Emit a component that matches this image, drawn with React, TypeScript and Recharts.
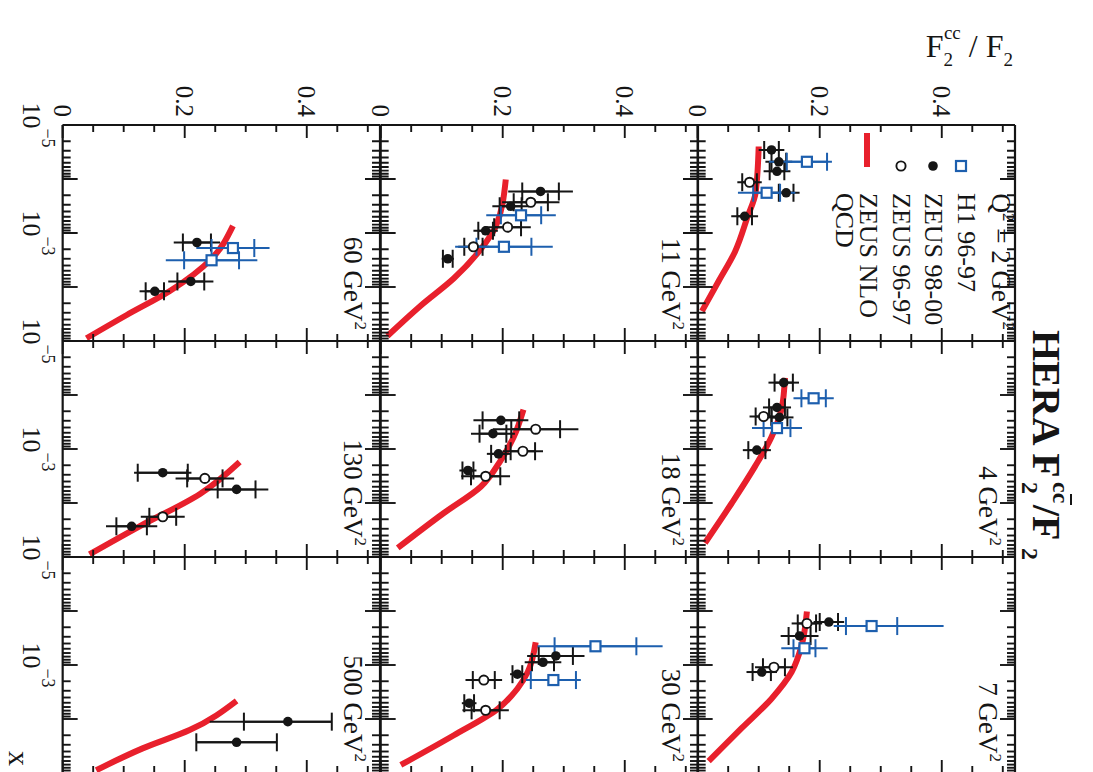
import React from 'react';
import { ComposedChart, Scatter, Line, XAxis, YAxis, ErrorBar } from 'recharts';

// ---- figure frame (drawn upright, then turned a quarter turn clockwise) ----
const FIG_W = 772;
const FIG_H = 1093;
const PLOT_LEFT = 125;
const PLOT_TOP = 78;
const PANEL_W = 216;
const PANEL_H = 317.33;

const INK = '#151515';
const BLUE = '#1d5fae';
const RED = '#e8202c';
const FONT = '"Liberation Serif", "Times New Roman", serif';

// ---- axes ----
const X_DOMAIN: [number, number] = [1e-5, 1e-1];
const R_DOMAIN: [number, number] = [0, 0.52];
const X_LABEL_EXPONENTS = [-5, -3];
const R_LABELS = [0, 0.2, 0.4];
const LOG_TICKS = [-5, -4, -3, -2].flatMap((d) => [1, 2, 3, 4, 5, 6, 7, 8, 9].map((m) => m * Math.pow(10, d))).concat([1e-1]);
const R_TICKS = [0, 0.05, 0.1, 0.15, 0.2, 0.25, 0.3, 0.35, 0.4, 0.45, 0.5];

// ---- panels: Q^2 in GeV^2 ----
const Q2_VALUES = [2, 4, 7, 11, 18, 30, 60, 130, 500];

// points: [x, F2cc/F2, stat. error, total error]; an error given as [down, up] is asymmetric
type Err = number | [number, number];
type Pt = [number, number, Err, Err];

const H1_Q2_2: Pt[] = [[4.8e-5, 0.179, 0.033, [0.062, 0.041]], [1.8e-4, 0.113, 0.022, 0.047]];
const ZEUS98_Q2_2: Pt[] = [[2.9e-5, 0.121, 0.012, 0.021], [4.8e-5, 0.133, 0.012, 0.022], [7.2e-5, 0.13, 0.012, 0.022], [1.8e-4, 0.145, 0.012, 0.022], [4.9e-4, 0.077, 0.012, 0.022]];
const ZEUS96_Q2_2: Pt[] = [[1.15e-4, 0.085, 0.012, 0.02]];
const NLO_Q2_2: [number, number][] = [[2.5e-5, 0.1], [1.78e-4, 0.095], [4.9e-4, 0.082], [2.24e-3, 0.061], [7.9e-3, 0.034], [2.8e-2, 0.007]];

const H1_Q2_4: Pt[] = [[1.15e-4, 0.19, 0.02, 0.033], [4.1e-4, 0.13, 0.022, 0.041]];
const ZEUS98_Q2_4: Pt[] = [[5.9e-5, 0.141, 0.015, 0.025], [1.7e-4, 0.13, 0.013, 0.023], [2.6e-4, 0.134, 0.013, 0.023], [1.05e-3, 0.097, 0.014, 0.023]];
const ZEUS96_Q2_4: Pt[] = [[2.5e-4, 0.108, 0.013, 0.023]];
const NLO_Q2_4: [number, number][] = [[4.8e-5, 0.143], [1.7e-4, 0.138], [6.0e-4, 0.121], [2.1e-3, 0.094], [1e-2, 0.056], [5.5e-2, 0.012]];

const H1_Q2_7: Pt[] = [[1.9e-4, 0.285, 0.042, [0.062, 0.118]], [4.9e-4, 0.175, 0.018, 0.038]];
const ZEUS98_Q2_7: Pt[] = [[1.6e-4, 0.215, 0.015, 0.025], [2.9e-4, 0.167, 0.018, 0.031], [1.35e-3, 0.105, 0.015, 0.025]];
const ZEUS96_Q2_7: Pt[] = [[1.7e-4, 0.179, 0.015, 0.025], [1.1e-3, 0.125, 0.018, 0.031]];
const NLO_Q2_7: [number, number][] = [[1.02e-4, 0.179], [4.5e-4, 0.17], [1.35e-3, 0.154], [4.2e-3, 0.121], [1.48e-2, 0.072], [6.0e-2, 0.018]];

const H1_Q2_11: Pt[] = [[4.7e-4, 0.23, 0.033, 0.057], [1.8e-3, 0.202, 0.045, 0.08]];
const ZEUS98_Q2_11: Pt[] = [[1.7e-4, 0.262, 0.03, 0.053], [3.2e-4, 0.213, 0.018, 0.03], [9.1e-4, 0.172, 0.012, 0.02], [3.0e-3, 0.11, 0.008, 0.01]];
const ZEUS96_Q2_11: Pt[] = [[2.7e-4, 0.246, 0.028, 0.047], [7.8e-4, 0.208, 0.022, 0.038], [1.8e-3, 0.152, 0.015, 0.025]];
const NLO_Q2_11: [number, number][] = [[1.02e-4, 0.205], [7.4e-4, 0.189], [2e-3, 0.164], [6.9e-3, 0.12], [2.2e-2, 0.066], [8.1e-2, 0.011]];

const H1_Q2_18: Pt[] = [];
const ZEUS98_Q2_18: Pt[] = [[2.95e-4, 0.197, 0.03, 0.045], [5.2e-4, 0.184, 0.022, 0.036], [1.23e-3, 0.193, 0.012, 0.019], [2.5e-3, 0.143, 0.009, 0.014]];
const ZEUS96_Q2_18: Pt[] = [[4.3e-4, 0.254, 0.04, 0.07], [1.1e-3, 0.233, 0.02, 0.033], [3.2e-3, 0.172, 0.024, 0.04]];
const NLO_Q2_18: [number, number][] = [[1.86e-4, 0.234], [6e-4, 0.218], [1.6e-3, 0.197], [5e-3, 0.164], [1.55e-2, 0.103], [6.8e-2, 0.028]];

const H1_Q2_30: Pt[] = [[4.5e-4, 0.352, 0.067, [0.095, 0.11]], [1.9e-3, 0.283, 0.037, 0.045]];
const ZEUS98_Q2_30: Pt[] = [[6.8e-4, 0.287, 0.028, 0.047], [8.9e-4, 0.266, 0.018, 0.03], [1.48e-3, 0.224, 0.008, 0.012], [5.1e-3, 0.145, 0.008, 0.012]];
const ZEUS96_Q2_30: Pt[] = [[1.9e-3, 0.169, 0.018, 0.03], [6.9e-3, 0.172, 0.023, 0.038]];
const NLO_Q2_30: [number, number][] = [[3.8e-4, 0.254], [1.35e-3, 0.241], [2.75e-3, 0.224], [6.5e-3, 0.192], [2e-2, 0.12], [7.1e-2, 0.033]];

const H1_Q2_60: Pt[] = [[1.9e-3, 0.279, 0.035, 0.06], [3.2e-3, 0.244, 0.045, 0.075]];
const ZEUS98_Q2_60: Pt[] = [[1.5e-3, 0.22, 0.023, 0.038], [7.9e-3, 0.21, 0.022, 0.037], [1.2e-2, 0.151, 0.015, 0.025]];
const ZEUS96_Q2_60: Pt[] = [];
const NLO_Q2_60: [number, number][] = [[7.4e-4, 0.279], [3e-3, 0.244], [1.2e-2, 0.175], [3.3e-2, 0.105], [8.9e-2, 0.039]];

const H1_Q2_130: Pt[] = [];
const ZEUS98_Q2_130: Pt[] = [[2.75e-3, 0.164, 0.041, 0.047], [5.6e-3, 0.285, 0.031, 0.052], [2.7e-2, 0.113, 0.025, 0.042]];
const ZEUS96_Q2_130: Pt[] = [[3.5e-3, 0.233, 0.029, 0.048], [1.8e-2, 0.164, 0.022, 0.036]];
const NLO_Q2_130: [number, number][] = [[1.74e-3, 0.29], [6.8e-3, 0.225], [2.7e-2, 0.126], [8.9e-2, 0.044]];

const H1_Q2_500: Pt[] = [];
const ZEUS98_Q2_500: Pt[] = [[1.12e-2, 0.369, 0.072, [0.128, 0.072]], [2.7e-2, 0.285, 0.066, 0.066]];
const ZEUS96_Q2_500: Pt[] = [];
const NLO_Q2_500: [number, number][] = [[4.6e-3, 0.285], [1.6e-2, 0.208], [3.5e-2, 0.131], [8.9e-2, 0.055]];

const H1_SETS = [H1_Q2_2, H1_Q2_4, H1_Q2_7, H1_Q2_11, H1_Q2_18, H1_Q2_30, H1_Q2_60, H1_Q2_130, H1_Q2_500];
const ZEUS98_SETS = [ZEUS98_Q2_2, ZEUS98_Q2_4, ZEUS98_Q2_7, ZEUS98_Q2_11, ZEUS98_Q2_18, ZEUS98_Q2_30, ZEUS98_Q2_60, ZEUS98_Q2_130, ZEUS98_Q2_500];
const ZEUS96_SETS = [ZEUS96_Q2_2, ZEUS96_Q2_4, ZEUS96_Q2_7, ZEUS96_Q2_11, ZEUS96_Q2_18, ZEUS96_Q2_30, ZEUS96_Q2_60, ZEUS96_Q2_130, ZEUS96_Q2_500];
const NLO_SETS = [NLO_Q2_2, NLO_Q2_4, NLO_Q2_7, NLO_Q2_11, NLO_Q2_18, NLO_Q2_30, NLO_Q2_60, NLO_Q2_130, NLO_Q2_500];

const toRows = (pts: Pt[]) => pts.map(([x, r, stat, tot]) => ({ x, r, stat, tot }));
const toCurve = (pts: [number, number][]) => pts.map(([x, r]) => ({ x, r }));

// ---- markers ----
const filledDot = (p: any) => <circle cx={p.cx} cy={p.cy} r={4.8} fill={INK} />;
const openDot = (p: any) => <circle cx={p.cx} cy={p.cy} r={4.6} fill="#fff" stroke={INK} strokeWidth={1.9} />;
const blueSquare = (p: any) => <rect x={p.cx - 5} y={p.cy - 5} width={10} height={10} fill="#fff" stroke={BLUE} strokeWidth={2.2} />;

// ---- inward ticks, ROOT style ----
const isDecade = (v: number) => Math.abs(Math.log10(v) - Math.round(Math.log10(v))) < 1e-6;

const logTick = (side: 'bottom' | 'top', labelled: boolean) => (props: any) => {
  const { x, y, payload } = props;
  const v = payload.value as number;
  const major = isDecade(v);
  const len = major ? 15 : 8;
  const dir = side === 'bottom' ? -1 : 1;
  const exp = Math.round(Math.log10(v));
  const show = labelled && major && X_LABEL_EXPONENTS.includes(exp);
  return (
    <g>
      <line x1={x} y1={y} x2={x} y2={y + dir * len} stroke={INK} strokeWidth={1.9} />
      {show && (
        <text x={x} y={y + 40} textAnchor="middle" fontSize={26} fontFamily={FONT} fill={INK}>
          10<tspan dy={-19} fontSize={18}>{'\u2212' + String(-exp)}</tspan>
        </text>
      )}
    </g>
  );
};

const linTick = (side: 'left' | 'right', labelled: boolean) => (props: any) => {
  const { x, y, payload } = props;
  const v = payload.value as number;
  const major = Math.abs(v / 0.2 - Math.round(v / 0.2)) < 1e-6;
  const len = major ? 13 : 7;
  const dir = side === 'left' ? 1 : -1;
  const show = labelled && R_LABELS.some((l) => Math.abs(l - v) < 1e-9);
  return (
    <g>
      <line x1={x} y1={y} x2={x + dir * len} y2={y} stroke={INK} strokeWidth={1.9} />
      {show && (
        <text x={x - 8} y={y} dy="0.35em" textAnchor="end" fontSize={25} fontFamily={FONT} fill={INK}>
          {v === 0 ? '0' : String(v)}
        </text>
      )}
    </g>
  );
};

const FRAME = { stroke: INK, strokeWidth: 2.2 };
// each axis band is one pixel thick; the frame sits on its inner edge
const AXIS_BAND = 1;

function Panel({ index }: { index: number }) {
  const col = index % 3;
  const row = Math.floor(index / 3);
  const m = { left: 90, right: 10, top: 10, bottom: 70 };
  const h1 = toRows(H1_SETS[index]);
  const z98 = toRows(ZEUS98_SETS[index]);
  const z96 = toRows(ZEUS96_SETS[index]);
  const nlo = toCurve(NLO_SETS[index]);
  const w = PANEL_W + m.left + m.right + 2 * AXIS_BAND;
  const h = PANEL_H + m.top + m.bottom + 2 * AXIS_BAND;
  return (
    <div style={{ position: 'absolute', left: PLOT_LEFT + col * PANEL_W - m.left - AXIS_BAND, top: PLOT_TOP + row * PANEL_H - m.top - AXIS_BAND }}>
      <ComposedChart width={w} height={h} margin={m}>
        <XAxis xAxisId="b" orientation="bottom" type="number" dataKey="x" scale="log" domain={X_DOMAIN} allowDataOverflow
          ticks={LOG_TICKS} interval={0} height={AXIS_BAND} tickSize={0} tickMargin={0} tickLine={false} axisLine={FRAME}
          tick={logTick('bottom', row === 2)} />
        <XAxis xAxisId="t" orientation="top" type="number" dataKey="x" scale="log" domain={X_DOMAIN} allowDataOverflow
          ticks={LOG_TICKS} interval={0} height={AXIS_BAND} tickSize={0} tickMargin={0} tickLine={false} axisLine={FRAME}
          tick={logTick('top', false)} />
        <YAxis yAxisId="l" orientation="left" type="number" dataKey="r" domain={R_DOMAIN} allowDataOverflow
          ticks={R_TICKS} interval={0} width={AXIS_BAND} tickSize={0} tickMargin={0} tickLine={false} axisLine={FRAME}
          tick={linTick('left', col === 0)} />
        <YAxis yAxisId="rt" orientation="right" type="number" dataKey="r" domain={R_DOMAIN} allowDataOverflow
          ticks={R_TICKS} interval={0} width={AXIS_BAND} tickSize={0} tickMargin={0} tickLine={false} axisLine={FRAME}
          tick={linTick('right', false)} />
        <Line xAxisId="b" yAxisId="l" data={nlo} dataKey="r" type="monotone" stroke={RED} strokeWidth={6} dot={false} activeDot={false} isAnimationActive={false} />
        <Scatter xAxisId="b" yAxisId="l" data={z96} dataKey="r" shape={openDot} isAnimationActive={false}>
          <ErrorBar dataKey="tot" direction="y" width={0} stroke={INK} strokeWidth={2} />
          <ErrorBar dataKey="stat" direction="y" width={9} stroke={INK} strokeWidth={2} />
        </Scatter>
        <Scatter xAxisId="b" yAxisId="l" data={z98} dataKey="r" shape={filledDot} isAnimationActive={false}>
          <ErrorBar dataKey="tot" direction="y" width={0} stroke={INK} strokeWidth={2} />
          <ErrorBar dataKey="stat" direction="y" width={9} stroke={INK} strokeWidth={2} />
        </Scatter>
        <Scatter xAxisId="b" yAxisId="l" data={h1} dataKey="r" shape={blueSquare} isAnimationActive={false}>
          <ErrorBar dataKey="tot" direction="y" width={0} stroke={BLUE} strokeWidth={2} />
          <ErrorBar dataKey="stat" direction="y" width={9} stroke={BLUE} strokeWidth={2} />
        </Scatter>
      </ComposedChart>
    </div>
  );
}

// ---- texts: title, axis titles, legend, Q^2 labels ----
function Annotations() {
  const labels = Q2_VALUES.map((q2, i) => {
    if (i === 0) return null;
    const col = i % 3;
    const row = Math.floor(i / 3);
    return (
      <text key={q2} x={PLOT_LEFT + (col + 1) * PANEL_W - 11} y={PLOT_TOP + row * PANEL_H + 36} textAnchor="end" fontSize={27} fill={INK}>
        {q2} GeV<tspan dy={-11} fontSize={17}>2</tspan>
      </text>
    );
  });
  const lx = 166;
  const tx = 193;
  return (
    <svg width={FIG_W} height={FIG_H} style={{ position: 'absolute', left: 0, top: 0, pointerEvents: 'none' }} fontFamily={FONT}>
      {/* title */}
      <text x={330} y={60} fontSize={40} fontWeight="bold" fill={INK}>HERA F</text>
      <text x={482} y={71} fontSize={24} fontWeight="bold" fill={INK}>2</text>
      <text x={482} y={40} fontSize={24} fontWeight="bold" fill={INK}>cc</text>
      <line x1={494} y1={22} x2={505} y2={22} stroke={INK} strokeWidth={2} />
      <text x={505} y={60} fontSize={40} fontWeight="bold" fill={INK}>/F</text>
      <text x={548} y={71} fontSize={24} fontWeight="bold" fill={INK}>2</text>

      {/* y-axis title */}
      <g transform="translate(57, 80) rotate(-90)">
        <text x={0} y={0} textAnchor="end" fontSize={32} fill={INK}>
          F<tspan dy={9} fontSize={19}>2</tspan>
          <tspan dx={-9} dy={-27} fontSize={19}>cc</tspan>
          <tspan dy={18} fontSize={32}> / F</tspan>
          <tspan dy={9} fontSize={19}>2</tspan>
        </text>
      </g>

      {/* x-axis title */}
      <text x={766} y={1084} textAnchor="end" fontSize={30} fill={INK}>x</text>

      {/* legend of the first panel */}
      <text x={330} y={101} textAnchor="end" fontSize={27} fill={INK}>
        Q<tspan dy={-11} fontSize={17}>2</tspan><tspan dy={11}> = 2 GeV</tspan><tspan dy={-11} fontSize={17}>2</tspan>
      </text>
      <rect x={lx - 5} y={127} width={10} height={10} fill="#fff" stroke={BLUE} strokeWidth={2.2} />
      <text x={tx} y={135} fontSize={26} fill={INK}>H1 96-97</text>
      <circle cx={lx} cy={160} r={4.8} fill={INK} />
      <text x={tx} y={168} fontSize={26} fill={INK}>ZEUS 98-00</text>
      <circle cx={lx} cy={192} r={4.6} fill="#fff" stroke={INK} strokeWidth={1.9} />
      <text x={tx} y={200} fontSize={26} fill={INK}>ZEUS 96-97</text>
      <rect x={133} y={223} width={34} height={6} fill={RED} />
      <text x={tx} y={233} fontSize={26} fill={INK}>ZEUS NLO</text>
      <text x={tx} y={257} fontSize={26} fill={INK}>QCD</text>

      {labels}
    </svg>
  );
}

export default function App() {
  return (
    <div style={{ position: 'absolute', left: 0, top: 0, width: 1093, height: 772, overflow: 'hidden', background: '#fff' }}>
      <div
        style={{
          position: 'absolute',
          left: 0,
          top: 0,
          width: FIG_W,
          height: FIG_H,
          transformOrigin: '0 0',
          transform: `translate(${FIG_H}px, 0px) rotate(90deg)`,
          fontFamily: FONT,
        }}
      >
        {Q2_VALUES.map((q2, i) => (
          <Panel key={q2} index={i} />
        ))}
        <Annotations />
      </div>
    </div>
  );
}
